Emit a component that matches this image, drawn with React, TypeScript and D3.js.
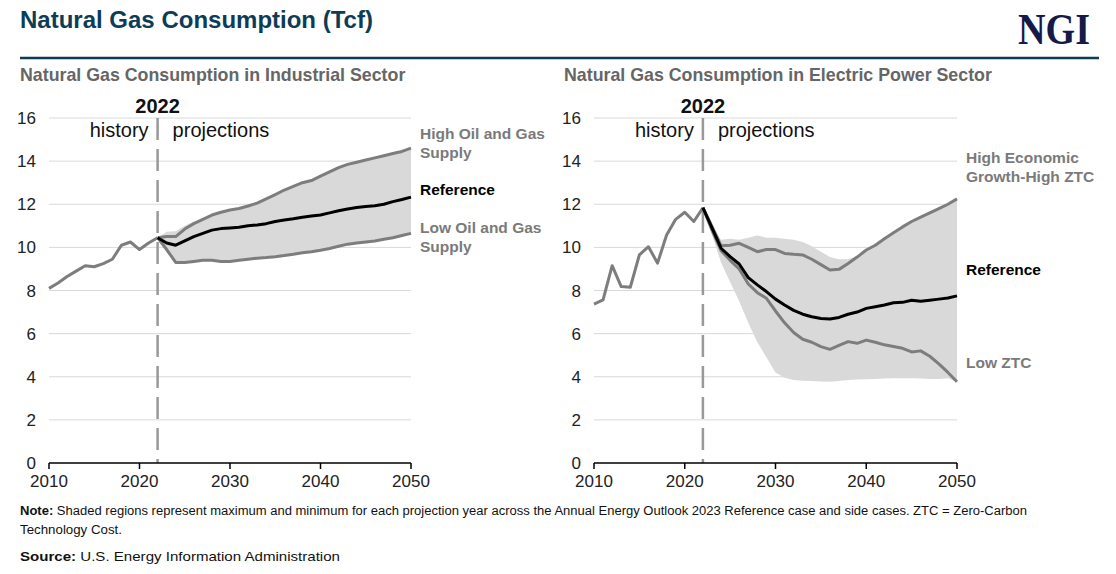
import React from "react";
import * as d3 from "d3";

const histYears = d3.range(2010, 2023);
const projYears = d3.range(2022, 2051);
const yTicks = [0, 2, 4, 6, 8, 10, 12, 14, 16];
const xTicks = [2010, 2020, 2030, 2040, 2050];

// Industrial sector
const indHistory = [8.1, 8.35, 8.65, 8.9, 9.15, 9.1, 9.25, 9.45, 10.1, 10.25, 9.9, 10.2, 10.45];
const indReference = [10.45, 10.2, 10.1, 10.3, 10.5, 10.65, 10.8, 10.87, 10.9, 10.93, 11.0, 11.04, 11.1, 11.2, 11.27, 11.33, 11.4, 11.45, 11.5, 11.6, 11.7, 11.78, 11.85, 11.9, 11.93, 12.0, 12.12, 12.22, 12.33];
const indHigh = [10.45, 10.5, 10.5, 10.85, 11.1, 11.3, 11.5, 11.63, 11.73, 11.8, 11.92, 12.05, 12.25, 12.45, 12.66, 12.83, 13.0, 13.1, 13.3, 13.5, 13.7, 13.85, 13.95, 14.05, 14.15, 14.25, 14.35, 14.45, 14.6];
const indLow = [10.45, 9.9, 9.3, 9.3, 9.35, 9.4, 9.4, 9.35, 9.35, 9.4, 9.45, 9.5, 9.53, 9.57, 9.62, 9.68, 9.75, 9.8, 9.87, 9.95, 10.05, 10.15, 10.2, 10.25, 10.3, 10.38, 10.45, 10.55, 10.65];
const indBandMax = [10.45, 10.72, 10.75, 11.0, 11.2, 11.3, 11.5, 11.63, 11.73, 11.8, 11.92, 12.05, 12.25, 12.45, 12.66, 12.83, 13.0, 13.1, 13.3, 13.5, 13.7, 13.85, 13.95, 14.05, 14.15, 14.25, 14.35, 14.45, 14.6];
const indBandMin = indLow;

// Electric power sector
const elecHistory = [7.37, 7.56, 9.15, 8.18, 8.15, 9.65, 10.03, 9.27, 10.57, 11.3, 11.63, 11.2, 11.84];
const elecReference = [11.84, 10.9, 9.96, 9.57, 9.23, 8.6, 8.26, 7.95, 7.6, 7.33, 7.08, 6.9, 6.78, 6.7, 6.68, 6.75, 6.9, 7.0, 7.17, 7.25, 7.33, 7.43, 7.45, 7.55, 7.5, 7.55, 7.6, 7.65, 7.75];
const elecHigh = [11.84, 10.97, 10.08, 10.1, 10.19, 10.0, 9.8, 9.9, 9.9, 9.72, 9.68, 9.65, 9.45, 9.2, 8.95, 8.98, 9.25, 9.55, 9.88, 10.1, 10.4, 10.68, 10.95, 11.2, 11.4, 11.6, 11.8, 12.0, 12.25];
const elecLow = [11.84, 10.8, 9.85, 9.4, 9.0, 8.3, 7.9, 7.64, 7.05, 6.5, 6.05, 5.74, 5.6, 5.4, 5.27, 5.45, 5.63, 5.55, 5.7, 5.6, 5.48, 5.4, 5.32, 5.15, 5.2, 4.95, 4.6, 4.2, 3.77];
const elecBandMax = [11.84, 10.97, 10.35, 10.4, 10.35, 10.45, 10.55, 10.45, 10.45, 10.4, 10.35, 10.25, 10.05, 9.8, 9.55, 9.45, 9.45, 9.6, 9.88, 10.1, 10.4, 10.68, 10.95, 11.2, 11.4, 11.6, 11.8, 12.0, 12.25];
const elecBandMin = [11.84, 10.6, 9.3, 8.4, 7.5, 6.5, 5.6, 4.9, 4.2, 3.95, 3.85, 3.82, 3.8, 3.78, 3.77, 3.8, 3.85, 3.87, 3.88, 3.9, 3.92, 3.93, 3.93, 3.93, 3.92, 3.9, 3.9, 3.93, 3.77];

const FONT = "'Liberation Sans', Arial, Helvetica, sans-serif";
const GRAY = "#7d7d7d";
const LABEL_GRAY = "#7a7a7a";

type Label = { lines: string[]; y: number; color: string };

type PanelProps = {
  left: number;
  right: number;
  title: string;
  titleX: number;
  history: number[];
  reference: number[];
  high: number[];
  low: number[];
  bandMax: number[];
  bandMin: number[];
  labels: Label[];
};

function Panel(p: PanelProps) {
  const x = d3.scaleLinear().domain([2010, 2050]).range([p.left, p.right]);
  const y = d3.scaleLinear().domain([0, 16]).range([463, 118]);
  const line = d3
    .line<[number, number]>()
    .x((d) => x(d[0]))
    .y((d) => y(d[1]));
  const area = d3
    .area<number>()
    .x((_, i) => x(projYears[i]))
    .y0((_, i) => y(Math.min(p.bandMin[i], p.low[i], p.reference[i], p.high[i])))
    .y1((_, i) => y(Math.max(p.bandMax[i], p.low[i], p.reference[i], p.high[i])));
  const pair = (ys: number[], vs: number[]) => ys.map((yr, i) => [yr, vs[i]] as [number, number]);
  const x22 = x(2022);
  return (
    <g>
      <text x={p.titleX} y={81} fontFamily={FONT} fontWeight="bold" fontSize={17.8} fill="#666">
        {p.title}
      </text>
      {yTicks.map((t) => (
        <g key={t}>
          {t > 0 && (
            <line x1={x(2010)} x2={x(2050)} y1={y(t)} y2={y(t)} stroke="#d9d9d9" strokeWidth={1} />
          )}
          <text
            x={x(2010) - 13}
            y={y(t) + 6}
            textAnchor="end"
            fontFamily={FONT}
            fontSize={17}
            fill="#222"
          >
            {t}
          </text>
        </g>
      ))}
      <path d={area(projYears.map((_, i) => i)) || ""} fill="#d9d9d9" />
      <line
        x1={x22}
        x2={x22}
        y1={118}
        y2={463}
        stroke="#999"
        strokeWidth={2.5}
        strokeDasharray="22,9"
      />
      <path d={line(pair(histYears, p.history)) || ""} fill="none" stroke={GRAY} strokeWidth={3} strokeLinejoin="round" />
      <path d={line(pair(projYears, p.high)) || ""} fill="none" stroke={GRAY} strokeWidth={3} strokeLinejoin="round" />
      <path d={line(pair(projYears, p.low)) || ""} fill="none" stroke={GRAY} strokeWidth={3} strokeLinejoin="round" />
      <path d={line(pair(projYears, p.reference)) || ""} fill="none" stroke="#000" strokeWidth={3} strokeLinejoin="round" />
      <line x1={x(2010)} x2={x(2050)} y1={463} y2={463} stroke="#000" strokeWidth={1.5} />
      {xTicks.map((t) => (
        <g key={t}>
          <line x1={x(t)} x2={x(t)} y1={463} y2={469} stroke="#000" strokeWidth={1.5} />
          <text x={x(t)} y={487} textAnchor="middle" fontFamily={FONT} fontSize={17} fill="#222">
            {t}
          </text>
        </g>
      ))}
      <text x={x22} y={113} textAnchor="middle" fontFamily={FONT} fontWeight="bold" fontSize={20} fill="#111">
        2022
      </text>
      <text x={x22 - 9} y={137} textAnchor="end" fontFamily={FONT} fontSize={20} fill="#111">
        history
      </text>
      <text x={x22 + 15} y={137} textAnchor="start" fontFamily={FONT} fontSize={20} fill="#111">
        projections
      </text>
      {p.labels.map((l, i) => (
        <text key={i} x={p.right + 9} y={l.y} fontFamily={FONT} fontWeight="bold" fontSize={15.5} fill={l.color}>
          {l.lines.map((s, j) => (
            <tspan key={j} x={p.right + 9} dy={j === 0 ? 0 : 19}>
              {s}
            </tspan>
          ))}
        </text>
      ))}
    </g>
  );
}

export default function App() {
  return (
    <svg
      width={1116}
      height={574}
      viewBox="0 0 1116 574"
      style={{ position: "absolute", left: 0, top: 0, background: "#fff" }}
    >
      <rect width={1116} height={574} fill="#fff" />
      <text x={20} y={28} fontFamily={FONT} fontWeight="bold" fontSize={24} fill="#0d3d56">
        Natural Gas Consumption (Tcf)
      </text>
      <text
        x={1018}
        y={44}
        fontFamily="'Liberation Serif', 'Times New Roman', serif"
        fontWeight="bold"
        fontSize={44}
        fill="#151a48"
        textLength={72}
        lengthAdjust="spacingAndGlyphs"
      >
        NGI
      </text>
      <line x1={20} x2={1099} y1={58} y2={58} stroke="#0d3d56" strokeWidth={2.5} />
      <Panel
        left={49}
        right={411}
        title="Natural Gas Consumption in Industrial Sector"
        titleX={20}
        history={indHistory}
        reference={indReference}
        high={indHigh}
        low={indLow}
        bandMax={indBandMax}
        bandMin={indBandMin}
        labels={[
          { lines: ["High Oil and Gas", "Supply"], y: 139, color: LABEL_GRAY },
          { lines: ["Reference"], y: 195, color: "#000" },
          { lines: ["Low Oil and Gas", "Supply"], y: 233, color: LABEL_GRAY },
        ]}
      />
      <Panel
        left={594}
        right={957}
        title="Natural Gas Consumption in Electric Power Sector"
        titleX={564}
        history={elecHistory}
        reference={elecReference}
        high={elecHigh}
        low={elecLow}
        bandMax={elecBandMax}
        bandMin={elecBandMin}
        labels={[
          { lines: ["High Economic", "Growth-High ZTC"], y: 163, color: LABEL_GRAY },
          { lines: ["Reference"], y: 275, color: "#000" },
          { lines: ["Low ZTC"], y: 368, color: LABEL_GRAY },
        ]}
      />
      <text x={20} y={515} fontFamily={FONT} fontSize={12.5} fill="#111" textLength={1007} lengthAdjust="spacingAndGlyphs">
        <tspan fontWeight="bold">Note:</tspan> Shaded regions represent maximum and minimum for each projection year
        across the Annual Energy Outlook 2023 Reference case and side cases. ZTC = Zero-Carbon
      </text>
      <text x={20} y={534} fontFamily={FONT} fontSize={12.5} fill="#111" textLength={102} lengthAdjust="spacingAndGlyphs">
        Technology Cost.
      </text>
      <text x={20} y={561} fontFamily={FONT} fontSize={13.5} fill="#111" textLength={320} lengthAdjust="spacingAndGlyphs">
        <tspan fontWeight="bold">Source:</tspan> U.S. Energy Information Administration
      </text>
    </svg>
  );
}
